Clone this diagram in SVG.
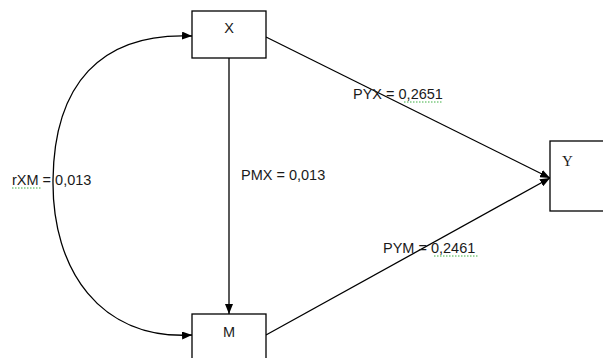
<svg xmlns="http://www.w3.org/2000/svg" width="603" height="358" viewBox="0 0 603 358">
<style>
.box{fill:#fff;stroke:#000;stroke-width:1.3}
.ln{fill:none;stroke:#000;stroke-width:1.3}
.t{font-family:"Liberation Sans",Arial,sans-serif;font-size:14.5px;fill:#1a1a1a}
.sq{fill:none;stroke:#3cb043;stroke-width:1;stroke-dasharray:1.5 1.5}
</style>
<defs>
<marker id="ah" markerWidth="10" markerHeight="8" refX="10" refY="4" orient="auto-start-reverse" markerUnits="userSpaceOnUse">
<path d="M0,0 L10,4 L0,8 Z" fill="#000"/>
</marker>
</defs>
<rect width="603" height="358" fill="#fff"/>
<g id="connectors">
<path class="ln" d="M192,36 C100,32 54,85 53,180 C52,270 100,340 192,335" marker-start="url(#ah)" marker-end="url(#ah)"/>
<line class="ln" x1="229" y1="58" x2="229" y2="314" marker-end="url(#ah)"/>
<line class="ln" x1="266" y1="37" x2="550" y2="178" marker-end="url(#ah)"/>
<line class="ln" x1="266" y1="335" x2="550" y2="178" marker-end="url(#ah)"/>
</g>
<g id="node-X">
<rect class="box" x="192" y="11" width="74" height="47"/>
<text class="t" x="229" y="33" text-anchor="middle">X</text>
</g>
<g id="node-M">
<rect class="box" x="192" y="314" width="74" height="50"/>
<text class="t" x="229" y="337" text-anchor="middle">M</text>
</g>
<g id="node-Y">
<rect class="box" x="550" y="141" width="60" height="70"/>
<text x="562" y="166" style="font-family:'Liberation Serif',serif;font-size:15px;fill:#1a1a1a">Y</text>
</g>
<g id="labels">
<text class="t" x="12" y="185">rXM = 0,013</text>
<path class="sq" d="M12,188 L41,188"/>
<text class="t" x="241" y="180">PMX = 0,013</text>
<text class="t" x="353" y="99">PYX = 0,2651</text>
<path class="sq" d="M404,102 L442,102"/>
<text class="t" x="383" y="253">PYM = 0,2461</text>
<path class="sq" d="M434,256 L478,256"/>
</g>
</svg>
